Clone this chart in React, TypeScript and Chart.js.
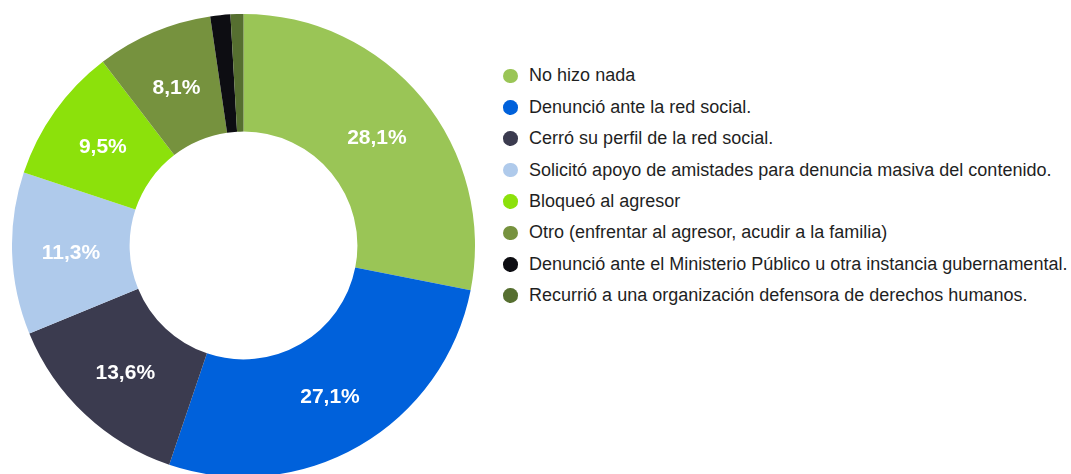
import React, { useEffect, useRef } from "react";
import { Chart, registerables } from "chart.js";

Chart.register(...registerables);

const categories = [
  "No hizo nada",
  "Denunció ante la red social.",
  "Cerró su perfil de la red social.",
  "Solicitó apoyo de amistades para denuncia masiva del contenido.",
  "Bloqueó al agresor",
  "Otro (enfrentar al agresor, acudir a la familia)",
  "Denunció ante el Ministerio Público u otra instancia gubernamental.",
  "Recurrió a una organización defensora de derechos humanos.",
];

const values = [28.1, 27.1, 13.6, 11.3, 9.5, 8.1, 1.4, 0.9];

const colors = [
  "#9AC556",
  "#0061DB",
  "#3B3B4F",
  "#AFCAEB",
  "#8CE10B",
  "#76923E",
  "#0D0D12",
  "#566F30",
];

const FONT = "'Liberation Sans', Arial, Helvetica, sans-serif";

const sliceLabels = {
  id: "sliceLabels",
  afterDatasetsDraw(chart: any) {
    const ctx = chart.ctx;
    const meta = chart.getDatasetMeta(0);
    ctx.save();
    ctx.fillStyle = "#ffffff";
    ctx.font = `bold 21px ${FONT}`;
    ctx.textAlign = "center";
    ctx.textBaseline = "middle";
    meta.data.forEach((arc: any, i: number) => {
      const v = values[i];
      if (v < 5) return;
      const p = arc.tooltipPosition();
      ctx.fillText(v.toFixed(1).replace(".", ",") + "%", p.x, p.y + 2);
    });
    ctx.restore();
  },
};

export default function App() {
  const ref = useRef<HTMLCanvasElement>(null);
  useEffect(() => {
    if (!ref.current) return;
    const chart = new Chart(ref.current, {
      type: "doughnut",
      data: {
        labels: categories,
        datasets: [
          {
            data: values,
            backgroundColor: colors,
            borderWidth: 0,
            hoverOffset: 0,
          },
        ],
      },
      options: {
        animation: false,
        responsive: true,
        maintainAspectRatio: false,
        cutout: "49.2%",
        layout: { padding: 0 },
        plugins: {
          legend: { display: false },
          tooltip: { enabled: false },
        },
      },
      plugins: [sliceLabels],
    });
    return () => chart.destroy();
  }, []);

  return (
    <div
      style={{
        position: "absolute",
        left: 0,
        top: 0,
        width: 1071,
        height: 474,
        overflow: "hidden",
        background: "#ffffff",
        fontFamily: FONT,
      }}
    >
      <div style={{ position: "absolute", left: 12, top: 14, width: 463, height: 463 }}>
        <canvas ref={ref} />
      </div>
      <div style={{ position: "absolute", left: 503, top: 60.3 }}>
        {categories.map((c, i) => (
          <div
            key={c}
            style={{
              display: "flex",
              alignItems: "center",
              height: 31.4,
              fontSize: 18,
              color: "#1f1f1f",
              whiteSpace: "nowrap",
            }}
          >
            <span
              style={{
                display: "inline-block",
                width: 14.6,
                height: 14.6,
                borderRadius: "50%",
                background: colors[i],
                marginRight: 11.5,
                flex: "none",
              }}
            />
            <span>{c}</span>
          </div>
        ))}
      </div>
    </div>
  );
}
